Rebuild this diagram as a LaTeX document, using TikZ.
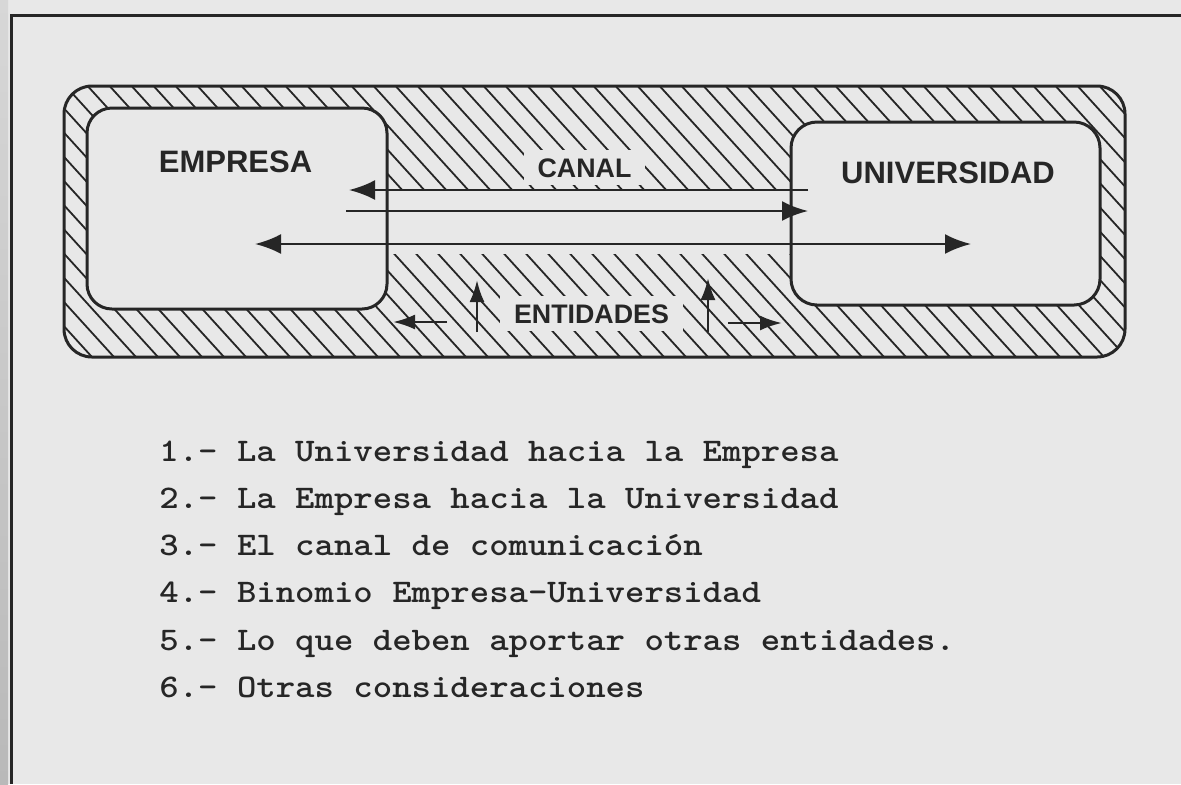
\documentclass[tikz,border=0pt]{standalone}
\usepackage{fontspec}
\setmainfont{Liberation Sans}
\usetikzlibrary{arrows.meta}
\definecolor{paper}{RGB}{232,232,232}
\definecolor{ink}{RGB}{38,38,38}
\definecolor{edgetop}{RGB}{215,215,215}
\definecolor{edgebot}{RGB}{185,185,185}
\begin{document}
\begin{tikzpicture}[x=0.5pt,y=-0.5pt,
  boxline/.style={draw=ink, line width=1.5pt},
  hatchline/.style={draw=ink, line width=0.9pt},
  chan/.style={draw=ink, line width=1.3pt},
  bighead/.style={-{Latex[length=13pt,width=10pt]}},
  bothheads/.style={{Latex[length=13pt,width=10pt]}-{Latex[length=13pt,width=10pt]}},
  smallhead/.style={-{Latex[length=11pt,width=7.5pt]}},
  boxlabel/.style={font=\fontsize{15.5}{18}\selectfont\bfseries, text=ink, inner sep=0pt, anchor=base},
  hatchlabel/.style={font=\fontsize{13.4}{16}\selectfont\bfseries, text=ink, fill=paper, inner xsep=7pt, inner ysep=4pt, anchor=base},
  listitem/.style={font=\ttfamily\bfseries\fontsize{16.5}{19}\selectfont, text=ink, inner sep=0pt, anchor=base west}
]
% page and bounding box
\useasboundingbox (0,0) rectangle (1181,784);
\fill[paper] (0,0) rectangle (1181,784);
\shade[top color=edgetop, bottom color=edgebot] (0,0) rectangle (8,784);
% outer frame
\draw[ink, line width=1.5pt] (11,784) -- (11,15) -- (1181,15);
% hatched band
\begin{scope}
  \clip[rounded corners=14pt] (64,86) rectangle (1125,357);
  \foreach \i in {-420,-398,...,1160} {
    \draw[hatchline] (\i,60) -- ++(330,363);
  }
\end{scope}
\draw[boxline, rounded corners=14pt] (64,86) rectangle (1125,357);
% white channel between the boxes
\fill[paper] (380,190) rectangle (798,254);
% labels inside the hatch
\node[hatchlabel] (canal) at (584.5,177) {CANAL};
\node[hatchlabel] (entidades) at (591.5,323) {ENTIDADES};
% boxes
\draw[boxline, fill=paper, rounded corners=12.5pt] (87,108) rectangle (387,309);
\draw[boxline, fill=paper, rounded corners=13pt] (791,122) rectangle (1100,305);
\node[boxlabel] (empresa) at (235.5,172) {EMPRESA};
\node[boxlabel] (universidad) at (948,183) {UNIVERSIDAD};
% channel arrows
\coordinate (c1s) at (808,190);
\coordinate (c1e) at (349,190);
\coordinate (c2s) at (346,211);
\coordinate (c2e) at (808,211);
\coordinate (c3s) at (255,244);
\coordinate (c3e) at (971,244);
\draw[chan, bighead] (c1s) -- (c1e);
\draw[chan, bighead] (c2s) -- (c2e);
\draw[chan, bothheads] (c3s) -- (c3e);
% entidades arrows
\coordinate (e1s) at (447,322);
\coordinate (e1e) at (393,322);
\coordinate (e2s) at (477,332);
\coordinate (e2e) at (477,280);
\coordinate (e3s) at (708,332);
\coordinate (e3e) at (708,278);
\coordinate (e4s) at (728,323);
\coordinate (e4e) at (782,323);
\draw[chan, smallhead] (e1s) -- (e1e);
\draw[chan, smallhead] (e2s) -- (e2e);
\draw[chan, smallhead] (e3s) -- (e3e);
\draw[chan, smallhead] (e4s) -- (e4e);
% list
\node[listitem] (l1) at (159,461) {\scalebox{1.12}[1]{1.- La Universidad hacia la Empresa}};
\node[listitem] (l2) at (159,508) {\scalebox{1.12}[1]{2.- La Empresa hacia la Universidad}};
\node[listitem] (l3) at (159,555) {\scalebox{1.12}[1]{3.- El canal de comunicación}};
\node[listitem] (l4) at (159,602) {\scalebox{1.12}[1]{4.- Binomio Empresa-Universidad}};
\node[listitem] (l5) at (159,650) {\scalebox{1.12}[1]{5.- Lo que deben aportar otras entidades.}};
\node[listitem] (l6) at (159,697) {\scalebox{1.12}[1]{6.- Otras consideraciones}};
\end{tikzpicture}
\end{document}
